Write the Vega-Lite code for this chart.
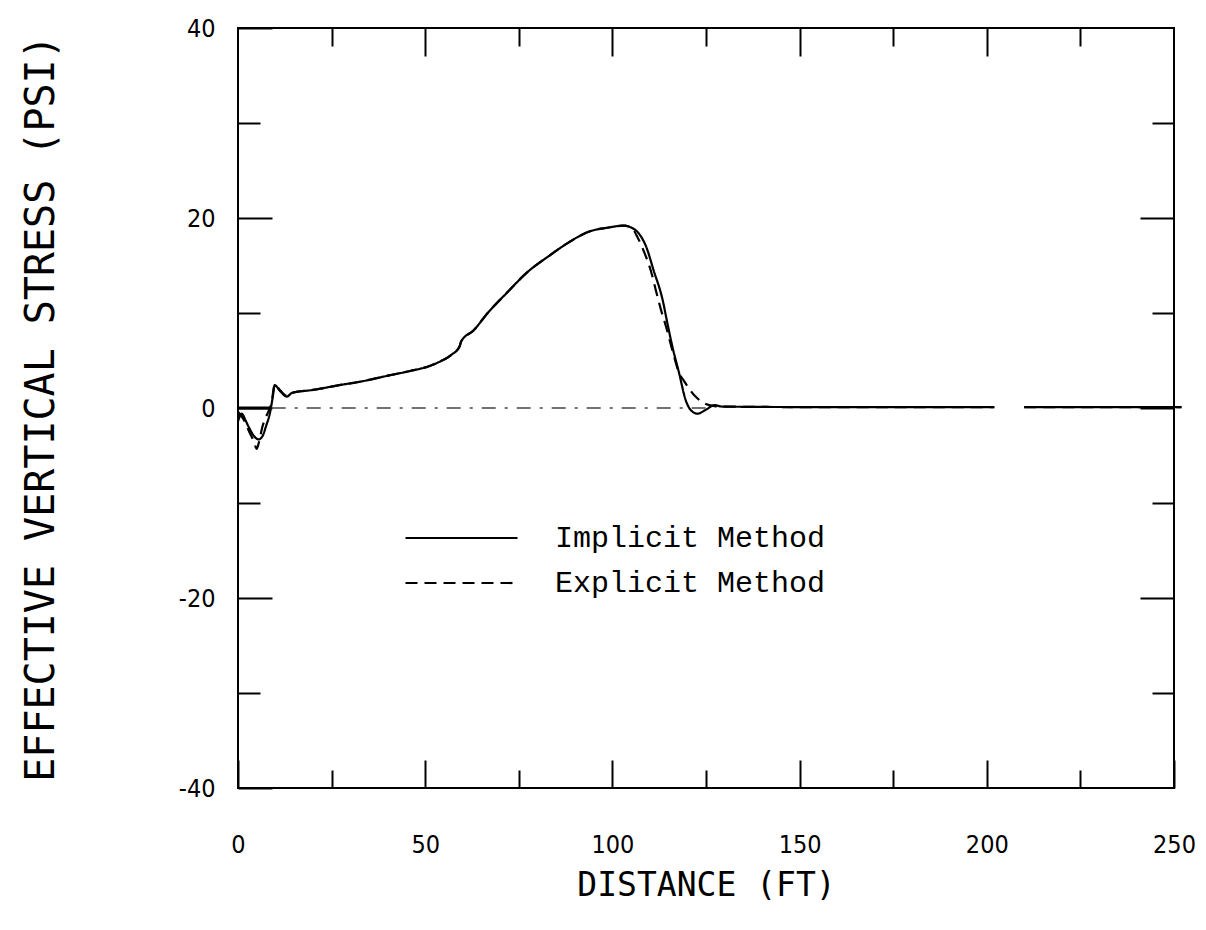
{
  "$schema": "https://vega.github.io/schema/vega-lite/v6.json",
  "width": 936,
  "height": 760,
  "autosize": {"type": "none"},
  "padding": {"left": 238, "top": 28, "right": 32, "bottom": 142},
  "background": "white",
  "config": {
    "view": {"stroke": "black", "strokeWidth": 2},
    "axis": {"domain": false, "grid": false, "tickColor": "black", "tickWidth": 2, "labelColor": "black", "titleColor": "black"}
  },
  "datasets": {
    "curves": [
      {"method": "Implicit Method", "x": 0, "y": -1.4},
      {"method": "Implicit Method", "x": 1, "y": -0.6},
      {"method": "Implicit Method", "x": 2, "y": -1.3},
      {"method": "Implicit Method", "x": 3, "y": -2.1},
      {"method": "Implicit Method", "x": 4, "y": -2.8},
      {"method": "Implicit Method", "x": 5.5, "y": -3.3},
      {"method": "Implicit Method", "x": 6.5, "y": -3.0},
      {"method": "Implicit Method", "x": 7.5, "y": -1.9},
      {"method": "Implicit Method", "x": 8.6, "y": -0.4},
      {"method": "Implicit Method", "x": 9.3, "y": 1.2},
      {"method": "Implicit Method", "x": 9.8, "y": 2.4},
      {"method": "Implicit Method", "x": 11.2, "y": 1.8},
      {"method": "Implicit Method", "x": 13, "y": 1.2},
      {"method": "Implicit Method", "x": 14.5, "y": 1.6},
      {"method": "Implicit Method", "x": 20, "y": 1.9},
      {"method": "Implicit Method", "x": 27, "y": 2.4},
      {"method": "Implicit Method", "x": 33, "y": 2.8},
      {"method": "Implicit Method", "x": 40, "y": 3.4},
      {"method": "Implicit Method", "x": 46, "y": 3.9},
      {"method": "Implicit Method", "x": 51, "y": 4.4},
      {"method": "Implicit Method", "x": 54, "y": 4.9},
      {"method": "Implicit Method", "x": 57, "y": 5.6},
      {"method": "Implicit Method", "x": 59.2, "y": 6.5},
      {"method": "Implicit Method", "x": 59.6, "y": 7.0},
      {"method": "Implicit Method", "x": 63, "y": 8.2},
      {"method": "Implicit Method", "x": 66.7, "y": 10.0},
      {"method": "Implicit Method", "x": 72, "y": 12.2},
      {"method": "Implicit Method", "x": 77, "y": 14.2},
      {"method": "Implicit Method", "x": 83.4, "y": 16.1},
      {"method": "Implicit Method", "x": 87.8, "y": 17.3},
      {"method": "Implicit Method", "x": 94, "y": 18.6},
      {"method": "Implicit Method", "x": 99, "y": 19.0},
      {"method": "Implicit Method", "x": 103, "y": 19.2},
      {"method": "Implicit Method", "x": 105, "y": 19.0},
      {"method": "Implicit Method", "x": 107, "y": 18.4},
      {"method": "Implicit Method", "x": 109, "y": 17.0},
      {"method": "Implicit Method", "x": 111, "y": 14.5},
      {"method": "Implicit Method", "x": 113.4, "y": 11.4},
      {"method": "Implicit Method", "x": 114.7, "y": 8.9},
      {"method": "Implicit Method", "x": 116, "y": 6.5},
      {"method": "Implicit Method", "x": 117.8, "y": 3.7},
      {"method": "Implicit Method", "x": 119.6, "y": 0.8},
      {"method": "Implicit Method", "x": 120.9, "y": -0.2},
      {"method": "Implicit Method", "x": 122.7, "y": -0.6},
      {"method": "Implicit Method", "x": 124.9, "y": -0.2},
      {"method": "Implicit Method", "x": 127.3, "y": 0.3},
      {"method": "Implicit Method", "x": 129.3, "y": 0.15},
      {"method": "Implicit Method", "x": 150, "y": 0.1},
      {"method": "Implicit Method", "x": 202, "y": 0.1},
      {"method": "Implicit Method", "x": 206, "y": null},
      {"method": "Implicit Method", "x": 210, "y": 0.1},
      {"method": "Implicit Method", "x": 252, "y": 0.1},
      {"method": "Explicit Method", "x": 0, "y": -0.4},
      {"method": "Explicit Method", "x": 1.5, "y": -1.2},
      {"method": "Explicit Method", "x": 3, "y": -2.5},
      {"method": "Explicit Method", "x": 4.2, "y": -3.5},
      {"method": "Explicit Method", "x": 5, "y": -4.3},
      {"method": "Explicit Method", "x": 5.6, "y": -3.6},
      {"method": "Explicit Method", "x": 6.5, "y": -2.0},
      {"method": "Explicit Method", "x": 7.3, "y": -1.1},
      {"method": "Explicit Method", "x": 8.3, "y": -0.2},
      {"method": "Explicit Method", "x": 9, "y": 0.6},
      {"method": "Explicit Method", "x": 9.5, "y": 2.0},
      {"method": "Explicit Method", "x": 9.8, "y": 2.5},
      {"method": "Explicit Method", "x": 11.2, "y": 1.9},
      {"method": "Explicit Method", "x": 13, "y": 1.3},
      {"method": "Explicit Method", "x": 14.5, "y": 1.6},
      {"method": "Explicit Method", "x": 20, "y": 1.9},
      {"method": "Explicit Method", "x": 27, "y": 2.4},
      {"method": "Explicit Method", "x": 33, "y": 2.8},
      {"method": "Explicit Method", "x": 40, "y": 3.4},
      {"method": "Explicit Method", "x": 46, "y": 3.9},
      {"method": "Explicit Method", "x": 51, "y": 4.4},
      {"method": "Explicit Method", "x": 54, "y": 4.9},
      {"method": "Explicit Method", "x": 57, "y": 5.6},
      {"method": "Explicit Method", "x": 59.2, "y": 6.5},
      {"method": "Explicit Method", "x": 59.6, "y": 7.0},
      {"method": "Explicit Method", "x": 63, "y": 8.2},
      {"method": "Explicit Method", "x": 66.7, "y": 10.0},
      {"method": "Explicit Method", "x": 72, "y": 12.2},
      {"method": "Explicit Method", "x": 77, "y": 14.2},
      {"method": "Explicit Method", "x": 83.4, "y": 16.1},
      {"method": "Explicit Method", "x": 87.8, "y": 17.3},
      {"method": "Explicit Method", "x": 94, "y": 18.6},
      {"method": "Explicit Method", "x": 99, "y": 19.0},
      {"method": "Explicit Method", "x": 103, "y": 19.2},
      {"method": "Explicit Method", "x": 105, "y": 19.0},
      {"method": "Explicit Method", "x": 106.8, "y": 17.9},
      {"method": "Explicit Method", "x": 108.6, "y": 16.3},
      {"method": "Explicit Method", "x": 110.3, "y": 14.4},
      {"method": "Explicit Method", "x": 111.6, "y": 12.4},
      {"method": "Explicit Method", "x": 113, "y": 10.3},
      {"method": "Explicit Method", "x": 114.3, "y": 8.6},
      {"method": "Explicit Method", "x": 116, "y": 6.1},
      {"method": "Explicit Method", "x": 117.8, "y": 3.7},
      {"method": "Explicit Method", "x": 119.2, "y": 2.8},
      {"method": "Explicit Method", "x": 122.2, "y": 1.2},
      {"method": "Explicit Method", "x": 124.5, "y": 0.5},
      {"method": "Explicit Method", "x": 127.3, "y": 0.2},
      {"method": "Explicit Method", "x": 129.3, "y": 0.15},
      {"method": "Explicit Method", "x": 150, "y": 0.1},
      {"method": "Explicit Method", "x": 202, "y": 0.1},
      {"method": "Explicit Method", "x": 206, "y": null},
      {"method": "Explicit Method", "x": 210, "y": 0.1},
      {"method": "Explicit Method", "x": 252, "y": 0.1}
    ],
    "zeroSolid": [
      {"x": 0, "y": 0},
      {"x": 8.6, "y": 0}
    ],
    "zeroDashDot": [
      {"x": 9, "y": 0},
      {"x": 126, "y": 0}
    ]
  },
  "resolve": {"axis": {"x": "independent", "y": "independent"}},
  "layer": [
    {
      "data": {"name": "curves"},
      "mark": {"type": "line", "color": "black", "strokeWidth": 2.2, "interpolate": "monotone", "invalid": "break-paths-show-domains"},
      "encoding": {
        "x": {
          "field": "x", "type": "quantitative",
          "scale": {"domain": [0, 250], "nice": false, "zero": false},
          "axis": {"orient": "bottom", "values": [0, 50, 100, 150, 200, 250], "tickSize": -28, "labelPadding": 72, "labelFlush": false,
                   "labelFont": "Liberation Sans Narrow, DejaVu Sans Condensed, sans-serif", "labelFontSize": 25,
                   "title": "DISTANCE (FT)", "titleFont": "DejaVu Sans Mono", "titleFontSize": 33, "titleFontWeight": "normal", "titlePadding": 12}
        },
        "y": {
          "field": "y", "type": "quantitative",
          "scale": {"domain": [-40, 40], "nice": false, "zero": false},
          "axis": {"orient": "left", "values": [-40, -20, 0, 20, 40], "tickSize": -34, "labelPadding": 57, "labelExpr": "'' + datum.value",
                   "labelFont": "Liberation Sans Narrow, DejaVu Sans Condensed, sans-serif", "labelFontSize": 25,
                   "title": "EFFECTIVE VERTICAL STRESS (PSI)", "titleFont": "DejaVu Sans Mono", "titleFontSize": 40, "titleFontWeight": "normal", "titlePadding": 117}
        },
        "strokeDash": {
          "field": "method", "type": "nominal",
          "scale": {"domain": ["Implicit Method", "Explicit Method"], "range": [[1, 0], [12, 7]]},
          "legend": {
            "title": null, "orient": "none", "legendX": 166, "legendY": 490,
            "symbolType": "stroke", "symbolSize": 12544, "symbolStrokeWidth": 2.2, "symbolStrokeColor": "black",
            "clipHeight": 40, "rowPadding": 5, "labelOffset": 36,
            "labelFont": "Liberation Mono", "labelFontSize": 30, "labelColor": "black", "labelLimit": 400
          }
        }
      }
    },
    {
      "data": {"name": "zeroSolid"},
      "mark": {"type": "line", "color": "black", "strokeWidth": 3},
      "encoding": {
        "x": {"field": "x", "type": "quantitative",
              "axis": {"orient": "bottom", "values": [25, 75, 125, 175, 225], "tickSize": -18, "labels": false, "title": null}},
        "y": {"field": "y", "type": "quantitative",
              "axis": {"orient": "left", "values": [-30, -10, 10, 30], "tickSize": -22, "labels": false, "title": null}}
      }
    },
    {
      "data": {"name": "zeroDashDot"},
      "mark": {"type": "line", "color": "#444444", "strokeWidth": 1.5, "strokeDash": [14, 9, 3, 9]},
      "encoding": {
        "x": {"field": "x", "type": "quantitative",
              "axis": {"orient": "top", "values": [50, 100, 150, 200], "tickSize": -28, "labels": false, "title": null}},
        "y": {"field": "y", "type": "quantitative",
              "axis": {"orient": "right", "values": [-20, 0, 20], "tickSize": -34, "labels": false, "title": null}}
      }
    },
    {
      "data": {"name": "zeroSolid"},
      "mark": {"type": "line", "color": "black", "opacity": 0},
      "encoding": {
        "x": {"field": "x", "type": "quantitative",
              "axis": {"orient": "top", "values": [25, 75, 125, 175, 225], "tickSize": -18, "labels": false, "title": null}},
        "y": {"field": "y", "type": "quantitative",
              "axis": {"orient": "right", "values": [-30, -10, 10, 30], "tickSize": -22, "labels": false, "title": null}}
      }
    }
  ]
}
